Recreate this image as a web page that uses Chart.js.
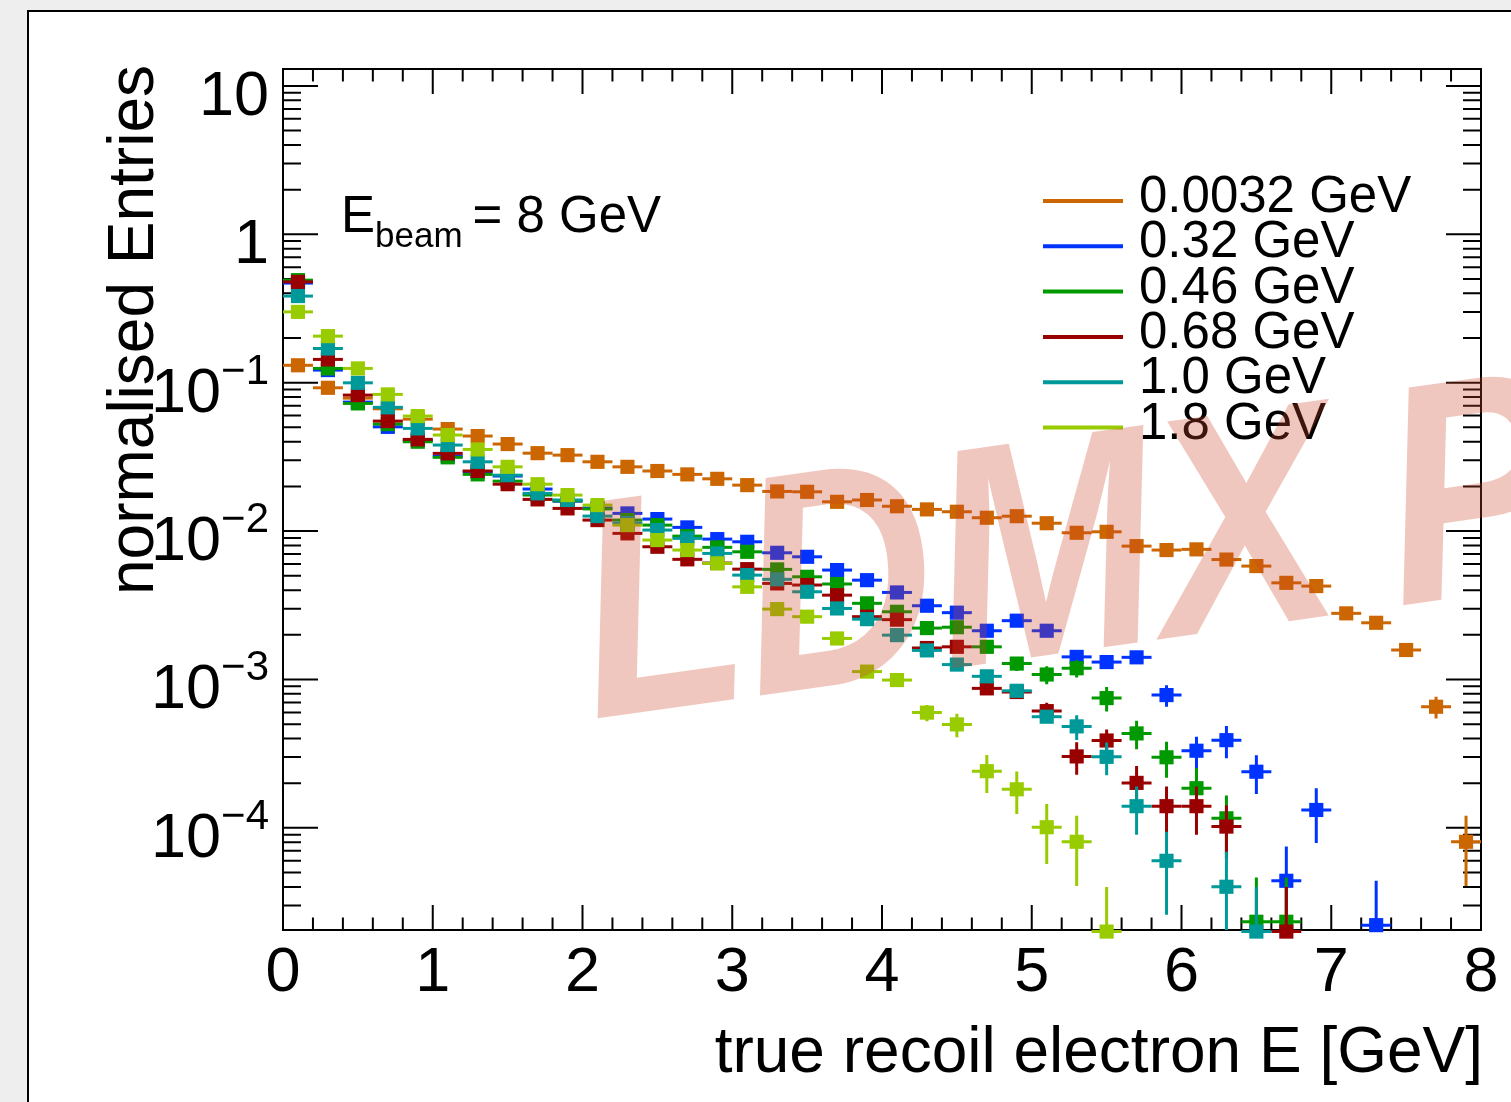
<!DOCTYPE html>
<html>
<head>
<meta charset="utf-8">
<title>Recoil electron energy</title>
<script src="https://cdn.jsdelivr.net/npm/chart.js@4.4.1/dist/chart.umd.min.js"></script>
<style>
  html, body { margin: 0; padding: 0; background: #eeeeee; overflow: hidden; }
  #pad { position: absolute; left: 27px; top: 10px; width: 1600px; height: 1200px; background: #fff; border: 2px solid #000; }
  #plot { position: absolute; left: 0; top: 0; }
</style>
</head>
<body>
<div id="pad"></div>
<canvas id="plot" width="1511" height="1102"></canvas>
<script>
const _ = null;

// bin centres (GeV), bins are 0.2 GeV wide
const binCenters = [
  0.1, 0.3, 0.5, 0.7, 0.9, 1.1, 1.3, 1.5, 1.7, 1.9,
  2.1, 2.3, 2.5, 2.7, 2.9, 3.1, 3.3, 3.5, 3.7, 3.9,
  4.1, 4.3, 4.5, 4.7, 4.9, 5.1, 5.3, 5.5, 5.7, 5.9,
  6.1, 6.3, 6.5, 6.7, 6.9, 7.1, 7.3, 7.5, 7.7, 7.9
];
const binHalfWidth = 0.1;

const seriesLabels = ['0.0032 GeV', '0.32 GeV', '0.46 GeV', '0.68 GeV', '1.0 GeV', '1.8 GeV'];
const seriesColors = ['#cc6600', '#0033ff', '#009900', '#990000', '#009999', '#99cc00'];

// normalised entries per bin
const vals0032 = [
  0.131, 0.0924, 0.0787, 0.0667, 0.0568, 0.0487, 0.0437, 0.0386, 0.0335, 0.0325,
  0.0293, 0.0271, 0.0254, 0.0241, 0.0225, 0.0204, 0.0185, 0.0184, 0.01575, 0.0162,
  0.0147, 0.0140, 0.0135, 0.0123, 0.0126, 0.0113, 0.00974, 0.00989, 0.00792, 0.00745,
  0.00753, 0.00643, 0.00581, 0.00448, 0.00426, 0.00279, 0.00241, 0.00158, 0.000655, 0.0000806
];
const vals032 = [
  0.469, 0.1216, 0.0740, 0.0504, 0.0410, 0.0320, 0.0251, 0.0235, 0.0192, 0.0159,
  0.0143, 0.01316, 0.01205, 0.01059, 0.00883, 0.00847, 0.00714, 0.00671, 0.00546, 0.00467,
  0.00386, 0.00314, 0.00282, 0.00213, 0.00249, 0.00213, 0.00142, 0.00131, 0.00141, 0.000785,
  0.000331, 0.000390, 0.000239, 0.0000440, 0.000132, _, 0.0000221, _, _, _
];
const vals046 = [
  0.491, 0.1248, 0.0725, 0.0526, 0.0400, 0.0314, 0.0241, 0.0217, 0.0175, 0.0160,
  0.0141, 0.01186, 0.01097, 0.00925, 0.00777, 0.00725, 0.00552, 0.00492, 0.00440, 0.00326,
  0.00286, 0.00222, 0.00225, 0.00166, 0.00128, 0.00108, 0.00119, 0.000749, 0.000433, 0.000299,
  0.000185, 0.000116, 0.0000233, 0.0000233, _, _, _, _, _, _
];
const vals068 = [
  0.478, 0.1435, 0.0825, 0.0551, 0.0415, 0.0334, 0.0254, 0.0207, 0.01635, 0.01422,
  0.01186, 0.00965, 0.00784, 0.00645, 0.00609, 0.00554, 0.00444, 0.00433, 0.00370, 0.00265,
  0.00253, 0.00163, 0.00166, 0.000871, 0.000823, 0.000612, 0.000303, 0.000388, 0.000201, 0.000140,
  0.000140, 0.000102, _, 0.0000200, _, _, _, _, _, _
];
const vals10 = [
  0.3835, 0.170, 0.0998, 0.0682, 0.0492, 0.0380, 0.0293, 0.0238, 0.01795, 0.0162,
  0.01262, 0.01132, 0.01016, 0.00893, 0.00707, 0.00505, 0.00473, 0.00390, 0.00301, 0.00255,
  0.00199, 0.00157, 0.00126, 0.00105, 0.000839, 0.000561, 0.000483, 0.000301, 0.000140, 0.0000600,
  _, 0.0000401, 0.0000200, _, _, _, _, _, _, _
];
const vals18 = [
  0.300, 0.206, 0.1248, 0.0834, 0.0596, 0.0444, 0.0355, 0.0271, 0.0207, 0.01748,
  0.01497, 0.01097, 0.00870, 0.00745, 0.00606, 0.00421, 0.00298, 0.00265, 0.00189, 0.00113,
  0.000991, 0.000598, 0.000498, 0.000241, 0.000182, 0.000101, 0.0000806, 0.0000200, _, _,
  _, _, _, _, _, _, _, _, _, _
];

// statistical errors, only where they stick out of the marker
const err0032 = [
  _, _, _, _, _, _, _, _, _, _,
  _, _, _, _, _, _, _, _, _, _,
  _, _, _, _, _, _, _, _, _, _,
  _, _, _, _, _, _, _, _, 0.00011, 0.00004
];
const err032 = [
  _, _, _, _, _, _, _, _, _, _,
  _, _, _, _, _, _, _, _, _, _,
  _, _, _, _, _, _, _, _, _, 0.00013,
  0.00008, 0.000095, 0.00007, 0.000031, 0.000053, _, 0.000022, _, _, _
];
const err046 = [
  _, _, _, _, _, _, _, _, _, _,
  _, _, _, _, _, _, _, _, _, _,
  _, _, _, _, 0.00014, 0.00015, 0.00016, 0.00014, 0.000094, 0.000081,
  0.000068, 0.000049, 0.000023, 0.000023, _, _, _, _, _, _
];
const err068 = [
  _, _, _, _, _, _, _, _, _, _,
  _, _, _, _, _, _, _, _, _, _,
  _, _, _, _, _, 0.000085, 0.000075, 0.000073, 0.00006, 0.00005,
  0.00005, 0.00004, _, 0.00002, _, _, _, _, _, _
];
const err10 = [
  _, _, _, _, _, _, _, _, _, _,
  _, _, _, _, _, _, _, _, _, _,
  _, _, _, _, _, _, 0.000092, 0.000075, 0.00005, 0.000034,
  _, 0.000029, 0.00002, _, _, _, _, _, _, _
];
const err18 = [
  _, _, _, _, _, _, _, _, _, _,
  _, _, _, _, _, _, _, _, _, _,
  _, 0.000074, 0.00009, 0.000069, 0.000058, 0.000044, 0.00004, 0.00002, _, _,
  _, _, _, _, _, _, _, _, _, _
];

const xTicks = [0, 1, 2, 3, 4, 5, 6, 7, 8];
const yDecades = [1, 0, -1, -2, -3, -4];

const seriesValues = [vals0032, vals032, vals046, vals068, vals10, vals18];
const seriesErrors = [err0032, err032, err046, err068, err10, err18];

const FONT = '"Liberation Sans", Helvetica, Arial, sans-serif';

function toPoints(vals, errs) {
  const pts = [];
  binCenters.forEach((x, i) => {
    if (vals[i] !== null) pts.push({ x: x, y: vals[i], err: errs[i] });
  });
  return pts;
}

// ROOT style frame with inward ticks on all four sides
const rootFrame = {
  id: 'rootFrame',
  beforeDatasetsDraw(chart) {
    const { ctx, chartArea: a, scales: { x, y } } = chart;
    ctx.save();
    ctx.strokeStyle = '#000';
    ctx.lineWidth = 2;
    ctx.strokeRect(a.left, a.top, a.right - a.left, a.bottom - a.top);

    ctx.beginPath();
    xTicks.forEach((t, i) => {
      const marks = [[t, 25]];
      if (i < xTicks.length - 1) {
        for (let k = 1; k < 5; k++) marks.push([t + k * 0.2, 12.5]);
      }
      marks.forEach(([v, len]) => {
        const px = x.getPixelForValue(v);
        ctx.moveTo(px, a.bottom); ctx.lineTo(px, a.bottom - len);
        ctx.moveTo(px, a.top); ctx.lineTo(px, a.top + len);
      });
    });
    for (let d = -5; d <= 1; d++) {
      for (let m = 1; m <= 9; m++) {
        const v = m * Math.pow(10, d);
        if (v < y.min || v > y.max) continue;
        const py = y.getPixelForValue(v);
        const len = m === 1 ? 35 : 18;
        ctx.moveTo(a.left, py); ctx.lineTo(a.left + len, py);
        ctx.moveTo(a.right, py); ctx.lineTo(a.right - len, py);
      }
    }
    ctx.stroke();

    ctx.fillStyle = '#000';
    ctx.textBaseline = 'alphabetic';
    ctx.font = `63px ${FONT}`;
    ctx.textAlign = 'center';
    xTicks.forEach(t => ctx.fillText(String(t), x.getPixelForValue(t), a.bottom + 61));

    yDecades.forEach(d => {
      const py = y.getPixelForValue(Math.pow(10, d)) + 29;
      const rx = a.left - 14;
      if (d >= 0) {
        ctx.font = `63px ${FONT}`;
        ctx.textAlign = 'right';
        ctx.fillText(d === 1 ? '10' : '1', rx, py);
      } else {
        const sup = '\u2212' + (-d);
        ctx.font = `42px ${FONT}`;
        const w = ctx.measureText(sup).width;
        ctx.textAlign = 'left';
        ctx.fillText(sup, rx - w, py - 28);
        ctx.font = `63px ${FONT}`;
        ctx.textAlign = 'right';
        ctx.fillText('10', rx - w, py);
      }
    });

    // axis titles
    ctx.font = `64px ${FONT}`;
    ctx.textAlign = 'right';
    ctx.fillText('true recoil electron E [GeV]', a.right + 2, a.bottom + 142);
    ctx.save();
    ctx.translate(a.left - 130, a.top - 4);
    ctx.rotate(-Math.PI / 2);
    ctx.fillText('normalised Entries', 0, 0);
    ctx.restore();
    ctx.restore();
  }
};

// horizontal bin-width bars and vertical error bars, drawn under each series' markers
const errorBars = {
  id: 'errorBars',
  beforeDatasetDraw(chart, args) {
    const ds = chart.data.datasets[args.index];
    const { ctx, chartArea: a, scales: { x, y } } = chart;
    ctx.save();
    ctx.strokeStyle = ds.backgroundColor;
    ctx.lineWidth = 3;
    ds.data.forEach(p => {
      const px = x.getPixelForValue(p.x);
      const py = y.getPixelForValue(p.y);
      ctx.beginPath();
      ctx.moveTo(x.getPixelForValue(p.x - binHalfWidth), py);
      ctx.lineTo(x.getPixelForValue(p.x + binHalfWidth), py);
      if (p.err) {
        const top = Math.max(a.top, y.getPixelForValue(p.y + p.err));
        const lo = p.y - p.err;
        const bottom = lo > 0 ? Math.min(a.bottom, y.getPixelForValue(lo)) : a.bottom;
        ctx.moveTo(px, top);
        ctx.lineTo(px, bottom);
      }
      ctx.stroke();
    });
    ctx.restore();
  }
};

// legend, beam label and the watermark on top of everything
const overlay = {
  id: 'overlay',
  afterDraw(chart) {
    const { ctx, chartArea: a } = chart;
    ctx.save();
    ctx.textBaseline = 'alphabetic';
    ctx.textAlign = 'left';

    seriesLabels.forEach((label, i) => {
      const ly = a.top + 132 + i * 45.3;
      ctx.strokeStyle = seriesColors[i];
      ctx.lineWidth = 4;
      ctx.beginPath();
      ctx.moveTo(a.left + 760, ly);
      ctx.lineTo(a.left + 840, ly);
      ctx.stroke();
      ctx.fillStyle = '#000';
      ctx.font = `51px ${FONT}`;
      ctx.fillText(label, a.left + 856, ly + 11);
    });

    let tx = a.left + 58;
    const ty = a.top + 163;
    ctx.fillStyle = '#000';
    ctx.font = `51px ${FONT}`;
    ctx.fillText('E', tx, ty);
    tx += ctx.measureText('E').width;
    ctx.font = `35px ${FONT}`;
    ctx.fillText('beam', tx, ty + 15);
    tx += ctx.measureText('beam').width + 10;
    ctx.font = `51px ${FONT}`;
    ctx.fillText('= 8 GeV', tx, ty);

    // tilted watermark, slightly narrow word gap
    ctx.translate(593, 719);
    ctx.rotate(-8 * Math.PI / 180);
    ctx.scale(0.86, 1);
    ctx.font = `italic bold 312px ${FONT}`;
    ctx.fillStyle = 'rgba(204, 68, 41, 0.3)';
    ctx.fillText('LDMX', 0, 0);
    ctx.fillText('Preliminary', ctx.measureText('LDMX').width + 62, 0);
    ctx.restore();
  }
};

new Chart(document.getElementById('plot'), {
  type: 'scatter',
  data: {
    datasets: seriesLabels.map((label, i) => ({
      label: label,
      data: toPoints(seriesValues[i], seriesErrors[i]),
      backgroundColor: seriesColors[i],
      borderColor: seriesColors[i],
      pointStyle: 'rect',
      pointRadius: 10,
      pointHoverRadius: 10,
      pointBorderWidth: 0,
      clip: false,
      order: seriesLabels.length - i
    }))
  },
  options: {
    responsive: false,
    animation: false,
    devicePixelRatio: 1,
    events: [],
    layout: { padding: { left: 283, top: 69, right: 30, bottom: 172 } },
    scales: {
      x: { type: 'linear', min: 0, max: 8, bounds: 'data', display: false },
      y: { type: 'logarithmic', min: 2.05e-5, max: 13, bounds: 'data', display: false }
    },
    plugins: {
      legend: { display: false },
      tooltip: { enabled: false }
    }
  },
  plugins: [rootFrame, errorBars, overlay]
});
</script>
</body>
</html>
